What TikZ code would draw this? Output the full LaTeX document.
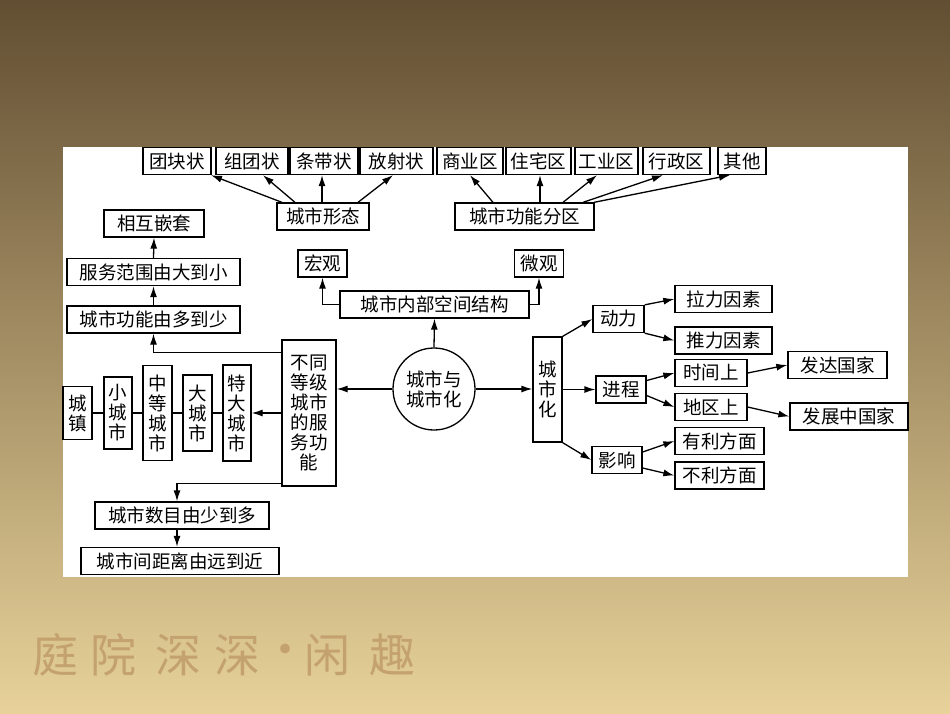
\documentclass[tikz,border=0pt]{standalone}
\usepackage{fontspec}
\setmainfont{Noto Sans CJK SC}
\usepackage{tikz}
\usetikzlibrary{positioning}
\usetikzlibrary{arrows.meta,shapes}
\usetikzlibrary{calc}
\newcommand{\cnfont}{\fontsize{18.5}{20}\selectfont}
\definecolor{bgtop}{RGB}{98,78,50}
\definecolor{bgmid}{RGB}{182,140,84}
\definecolor{bgbot}{RGB}{232,210,154}
\definecolor{seal}{RGB}{196,162,112}
\tikzstyle{box}=[rectangle,draw,line width=1.3pt,fill=white,inner sep=0pt,minimum height=27pt,font=\cnfont,align=center]
\tikzstyle{ring}=[circle,draw,line width=1.3pt,fill=white,inner sep=0pt,minimum size=82pt,font=\cnfont,align=center]
\tikzstyle{edge} = [draw,line width=1.3pt,-{Latex[length=11pt,width=7pt]}]
\tikzstyle{link} = [draw,line width=1.3pt]
\begin{document}
\begin{tikzpicture}[x=1pt,y=-1pt]

  \useasboundingbox (0,0) rectangle (950,713);
  \shade[top color=bgtop, middle color=bgmid, bottom color=bgbot] (0,0) rectangle (950,713);
  \foreach \x/\ch in {55/庭, 113/院, 178/深, 237/深, 285/·, 327/闲, 392/趣}
      \node[seal, font=\fontsize{46}{46}\selectfont] at (\x, 655) {\ch};

  \fill[white] (63,147) rectangle (908,577);

  % horizontal boxes
  \foreach \name/\x/\y/\w/\label in {tk/177/161/68/团块状, zt/252/161/72/组团状, td/324/161/68/条带状, fs/396.5/161/73/放射状,
      sy/470/161/66/商业区, zz/538.5/161/65/住宅区, gy/606.5/161/63/工业区, xz/676.5/161/67/行政区, qt/742/161/48/其他,
      xt/323/216.5/92/城市形态, gn/524.5/216.5/139/城市功能分区, hg/322.5/263.5/49/宏观, wg/539/263.5/49/微观,
      jg/434.5/304.5/189/城市内部空间结构}
      \node[box, minimum width=\w pt] (\name) at (\x, \y) {\label};

  \foreach \name/\x/\y/\w/\label in {xh/154/223.5/100/相互嵌套, fw/153.5/272/173/服务范围由大到小, gnd/153.5/319.5/173/城市功能由多到少,
      sm/182/515.5/174/城市数目由少到多, jl/180/561/198/城市间距离由远到近}
      \node[box, minimum width=\w pt] (\name) at (\x, \y) {\label};

  \foreach \name/\x/\y/\w/\label in {dl/618.5/319/51/动力, jc/621/389.5/50/进程, yx/617/460/50/影响,
      ll/723.5/299/97/拉力因素, tl/723.5/340.5/97/推力因素, sj/711/373/72/时间上, dq/711/407/72/地区上,
      fd/837.5/365/99/发达国家, fz/849/416.5/118/发展中国家, yl/719.5/441/89/有利方面, bl/719.5/475.5/89/不利方面}
      \node[box, minimum width=\w pt] (\name) at (\x, \y) {\label};

  % vertical boxes
  \node[box, minimum width=54pt, minimum height=146pt] (bt) at (309, 413) {不同\\等级\\城市\\的服\\务功\\能};
  \node[box, minimum width=28pt, minimum height=96pt] (td2) at (237, 413) {特\\大\\城\\市};
  \node[box, minimum width=29pt, minimum height=76pt] (dc) at (197.5, 413) {大\\城\\市};
  \node[box, minimum width=29pt, minimum height=95pt] (zd) at (157.5, 413) {中\\等\\城\\市};
  \node[box, minimum width=28pt, minimum height=72pt] (xc) at (118, 413) {小\\城\\市};
  \node[box, minimum width=29pt, minimum height=53pt] (cz) at (77.5, 413) {城\\镇};
  \node[box, minimum width=29pt, minimum height=105pt] (csh) at (547.5, 389.5) {城\\市\\化};

  \node[ring] (cir) at (434, 389) {城市与\\城市化};

  \foreach \dest/\sx/\dx in {tk/-41/34, zt/-28/11, td/-1/-2, fs/35/-3.5}
      \draw[edge] ([xshift=\sx pt]xt.north) -- ([xshift=\dx pt]\dest.south);
  \foreach \dest/\sx/\dx in {sy/-31.5/0, zz/15.5/1.5, gy/38.5/-9.5, xz/58.5/-13.5, qt/69.5/-12}
      \draw[edge] ([xshift=\sx pt]gn.north) -- ([xshift=\dx pt]\dest.south);

  \draw[edge] (jg.west) -| (hg.south);
  \draw[edge] (jg.east) -| (wg.south);
  \draw[edge] (cir.north) -- (jg.south);
  \draw[edge] (cir.west) -- (cir.west -| bt.east);
  \draw[edge] (cir.east) -- (cir.east -| csh.west);

  \foreach \source/\dest in {gnd/fw, fw/xh}
      \draw[edge] (\source.north) -- (\dest.south);
  \draw[edge] ([yshift=-13pt]bt.north west) -| (gnd.south);
  \draw[edge] ([yshift=3pt]bt.south west) -| ([xshift=-5pt]sm.north);
  \draw[edge] ([xshift=-5pt]sm.south) -- ([xshift=-5pt]sm.south |- jl.north);
  \draw[edge] (bt.west) -- (td2.east);
  \foreach \source/\dest in {cz/xc, xc/zd, zd/dc, dc/td2}
      \draw[link] (\source) -- (\dest);

  \draw[edge] (csh.north east) -- (dl.west);
  \draw[edge] (csh.east) -- (jc.west);
  \draw[edge] (csh.south east) -- (yx.west);
  \draw[edge] (dl.north east) -- (ll.west);
  \draw[edge] (dl.south east) -- (tl.west);
  \draw[edge] ([yshift=9pt]jc.east) -- (sj.west);
  \draw[edge] ([yshift=-6pt]jc.east) -- (dq.west);
  \draw[edge] ([yshift=8pt]yx.east) -- (yl.west);
  \draw[edge] ([yshift=-8pt]yx.east) -- (bl.west);
  \foreach \source/\dest in {sj/fd, dq/fz}
      \draw[edge] (\source.east) -- (\dest.west);

\end{tikzpicture}
\end{document}
